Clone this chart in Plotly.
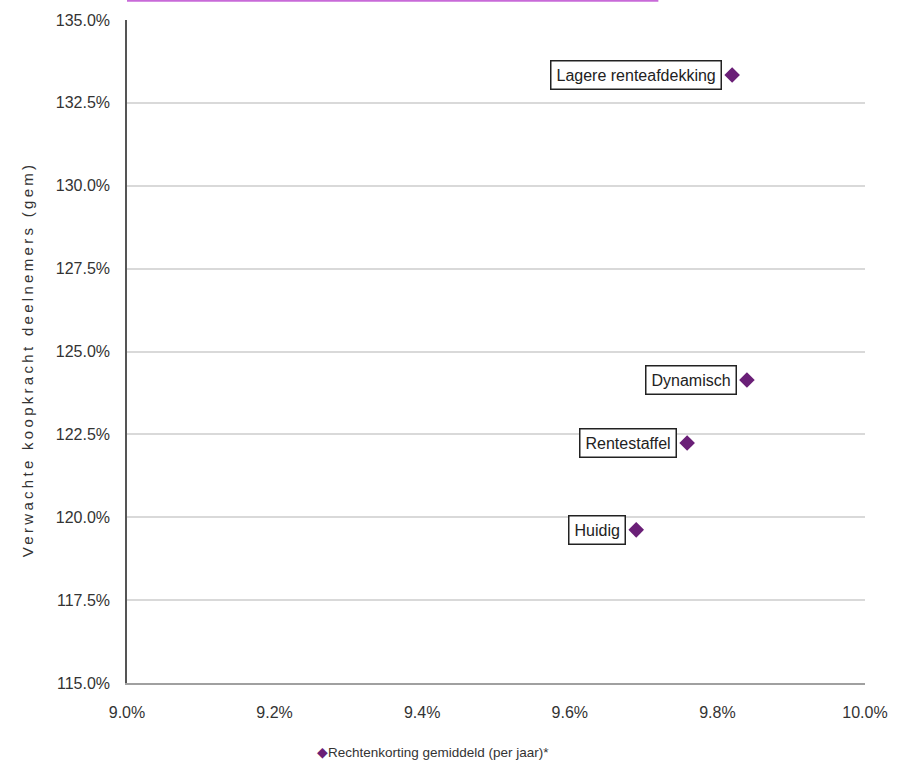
import plotly.graph_objects as go

labels = ["Lagere renteafdekking", "Dynamisch", "Rentestaffel", "Huidig"]
x_vals = [0.0982, 0.0984, 0.09759, 0.0969]
y_vals = [1.3334, 1.2414, 1.2224, 1.1962]
series_name = "Rechtenkorting gemiddeld (per jaar)*"
y_title = "Verwachte koopkracht deelnemers (gem)"

FONT = "Liberation Sans, Arial, sans-serif"
PURPLE = "#6a1f77"
TXT = "#333333"

fig = go.Figure()
fig.add_trace(go.Scatter(
    x=x_vals, y=y_vals, mode="markers", name=series_name,
    marker=dict(symbol="diamond", size=12, color=PURPLE),
    showlegend=False,
))

for lab, xv, yv in zip(labels, x_vals, y_vals):
    fig.add_annotation(
        x=xv, y=yv, xref="x", yref="y", text=lab, showarrow=False,
        xanchor="right", yanchor="middle", xshift=-10,
        bordercolor="#222222", borderwidth=1.5, borderpad=5,
        bgcolor="white", font=dict(family=FONT, size=16, color="#222222"),
    )

# legend drawn as a text line below the axis
fig.add_annotation(
    x=0.415, y=-0.105, xref="paper", yref="paper", showarrow=False,
    xanchor="center", yanchor="middle",
    text=f"<span style='color:{PURPLE}'>◆</span>{series_name}",
    font=dict(family=FONT, size=13.5, color=TXT),
)

# y-axis title (letter-spaced)
fig.add_annotation(
    x=-0.135, y=0.489, xref="paper", yref="paper", showarrow=False,
    xanchor="center", yanchor="middle", textangle=-90,
    text=f"<span style='letter-spacing:3.3px'>{y_title}</span>",
    font=dict(family=FONT, size=15, color=TXT),
)

fig.add_shape(type="line", xref="paper", yref="paper",
              x0=0.0, x1=0.72, y0=1.029, y1=1.029,
              line=dict(color="#c86ad8", width=2))

fig.update_layout(
    width=907, height=766,
    margin=dict(l=127, r=42, t=20, b=83, autoexpand=False),
    paper_bgcolor="white", plot_bgcolor="white",
    font=dict(family=FONT, size=16, color=TXT),
    showlegend=False,
    xaxis=dict(range=[0.09, 0.10], tickformat=".1%", dtick=0.002,
               showgrid=False, zeroline=False, showline=True,
               linecolor="#a0a0a0", linewidth=2, ticks="",
               ticklabelstandoff=14,
               tickfont=dict(family=FONT, size=16, color=TXT)),
    yaxis=dict(range=[1.15, 1.35], tickformat=".1%", dtick=0.025,
               showgrid=True, gridcolor="#d9d9d9", gridwidth=2,
               zeroline=False, showline=True, linecolor="#555555", linewidth=1.5,
               ticks="", ticklabelstandoff=12,
               tickfont=dict(family=FONT, size=16, color=TXT)),
)

fig.write_html("out.html")
